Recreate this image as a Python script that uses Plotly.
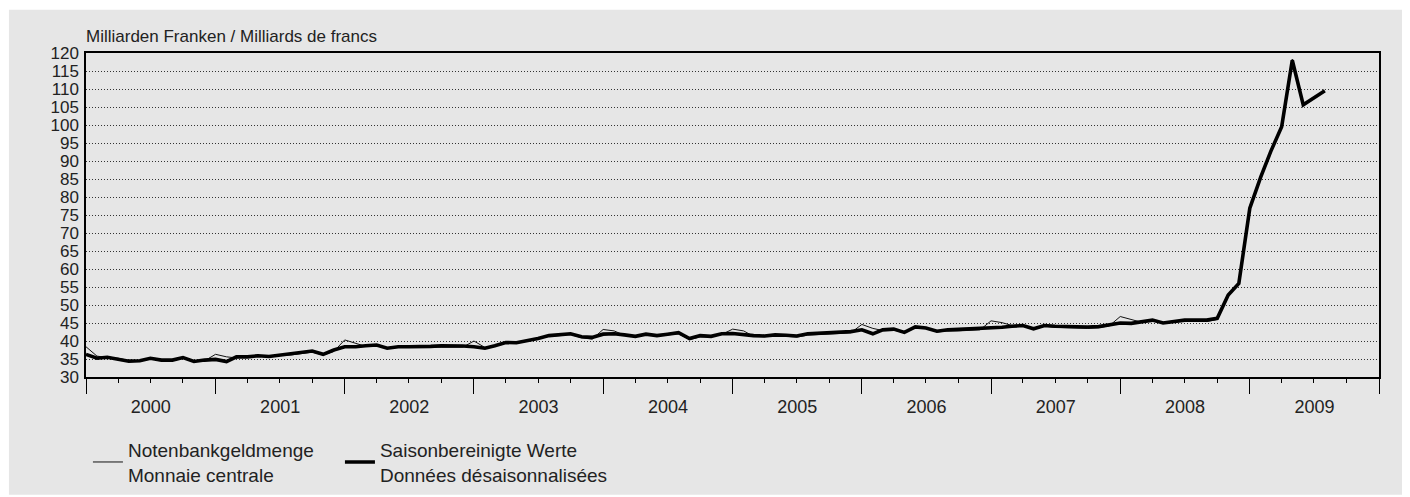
import plotly.graph_objects as go

# Monthly observations, Jan 2000 - Aug 2009 (billions of francs)
start_year = 2000
n_months = 116
months = [f"{start_year + i // 12}-{i % 12 + 1:02d}-01" for i in range(n_months)]

notenbankgeldmenge = [
    38.4, 35.8, 35.4, 35.2, 34.6, 34.4, 35.0, 34.9, 34.5, 35.2, 34.5, 34.5,
    36.3, 35.6, 35.3, 35.7, 35.8, 35.9, 35.9, 36.1, 36.5, 36.9, 36.1, 37.1,
    40.3, 39.3, 38.5, 38.8, 38.1, 38.3, 38.2, 38.1, 38.2, 38.3, 38.4, 38.3,
    40.0, 38.2, 38.5, 39.5, 39.6, 39.9, 40.6, 41.3, 41.5, 41.8, 40.9, 40.5,
    43.2, 42.8, 41.6, 41.2, 41.7, 41.4, 41.7, 42.0, 40.4, 41.1, 41.2, 41.8,
    43.3, 42.8, 41.3, 41.2, 41.5, 41.4, 41.1, 41.6, 41.7, 41.9, 42.1, 42.3,
    44.6, 43.5, 42.9, 43.1, 42.2, 43.7, 43.5, 42.5, 42.8, 42.8, 42.9, 43.1,
    45.6, 45.1, 44.3, 44.1, 43.3, 44.1, 43.8, 43.7, 43.6, 43.5, 43.7, 44.2,
    46.8, 46.0, 45.2, 45.6, 44.9, 45.2, 45.6, 45.5, 45.4, 46.0, 52.5, 56.2,
    77.5, 85.2, 92.2, 99.8, 118.3, 105.4, 107.4, 109.3,
]

saisonbereinigt = [
    36.3, 35.2, 35.5, 35.0, 34.4, 34.5, 35.2, 34.7, 34.7, 35.4, 34.3, 34.7,
    34.9, 34.3, 35.6, 35.6, 35.9, 35.7, 36.1, 36.3, 36.7, 37.2, 36.3, 37.5,
    38.4, 38.4, 38.7, 38.9, 38.0, 38.4, 38.4, 38.4, 38.5, 38.7, 38.7, 38.6,
    38.4, 38.0, 38.7, 39.6, 39.5, 40.0, 40.7, 41.5, 41.7, 42.0, 41.2, 41.0,
    41.9, 42.0, 41.7, 41.3, 41.9, 41.5, 41.9, 42.3, 40.7, 41.5, 41.3, 42.0,
    42.1, 41.7, 41.5, 41.4, 41.7, 41.6, 41.4, 42.0, 42.1, 42.3, 42.4, 42.6,
    43.1, 42.0, 43.1, 43.3, 42.4, 43.9, 43.6, 42.7, 43.1, 43.2, 43.3, 43.5,
    43.6, 43.8, 44.1, 44.3, 43.4, 44.3, 44.1, 44.0, 43.9, 43.9, 44.0, 44.5,
    45.0, 44.9, 45.3, 45.8, 45.0, 45.4, 45.8, 45.8, 45.8, 46.3, 52.8, 56.0,
    76.9, 85.6, 92.6, 99.5, 118.0, 105.6, 107.5, 109.5,
]

name_raw = "Notenbankgeldmenge<br>Monnaie centrale"
name_sa = "Saisonbereinigte Werte<br>Données désaisonnalisées"
unit_label = "Milliarden Franken / Milliards de francs"

FONT = "Liberation Sans, Arial, Helvetica, sans-serif"
TXT = "#222222"
BG = "#e6e6e6"

fig = go.Figure()
fig.add_trace(go.Scatter(x=months, y=notenbankgeldmenge, mode="lines", name=name_raw,
                         line=dict(color="#111111", width=1), legend="legend"))
fig.add_trace(go.Scatter(x=months, y=saisonbereinigt, mode="lines", name=name_sa,
                         line=dict(color="#000000", width=3.6), legend="legend2"))

legend_common = dict(orientation="h", xanchor="left", y=-0.166, yanchor="top",
                     bgcolor="rgba(0,0,0,0)", font=dict(size=19, color=TXT),
                     valign="middle")

# page has an 8px body margin, so the figure is 1402x489 and offset by 8px
fig.update_layout(
    width=1402, height=489,
    margin=dict(l=78, r=31, t=45, b=120, autoexpand=False),
    paper_bgcolor="white",
    plot_bgcolor=BG,
    font=dict(family=FONT, size=18, color=TXT),
    showlegend=True,
    legend=dict(x=0.0015, **legend_common),
    legend2=dict(x=0.1964, **legend_common),
    shapes=[dict(type="rect", xref="paper", yref="paper", x0=-0.0596, x1=1.03,
                 y0=-0.3633, y1=1.1336, fillcolor=BG, line=dict(width=0), layer="below")],
    annotations=[dict(text=unit_label, xref="paper", yref="paper", x=0, y=1,
                      xanchor="left", yanchor="middle", yshift=17, xshift=-2,
                      showarrow=False, font=dict(size=17, color=TXT))],
)

fig.update_xaxes(
    type="date", range=["2000-01-01", "2010-01-01"], automargin=False,
    tick0="2000-01-01", dtick="M12", tickformat="%Y", ticklabelmode="period",
    ticks="outside", ticklen=15, tickwidth=1, tickcolor="black",
    minor=dict(ticks="outside", ticklen=4, tickwidth=1, tickcolor="black",
               dtick="M3", tick0="2000-01-01", showgrid=False),
    showline=True, linecolor="black", linewidth=1.5, mirror=True,
    showgrid=False, zeroline=False, ticklabelstandoff=-2,
    tickfont=dict(size=18, color=TXT),
)
fig.update_yaxes(
    range=[30, 120], dtick=5, tick0=30, automargin=False,
    ticks="outside", ticklen=2, tickcolor="rgba(0,0,0,0)",
    showline=True, linecolor="black", linewidth=1.5, mirror=True,
    showgrid=True, gridcolor="#333333", gridwidth=1, griddash="1px,2px",
    zeroline=False, tickfont=dict(size=17, color=TXT),
)

fig.write_html("out.html")
